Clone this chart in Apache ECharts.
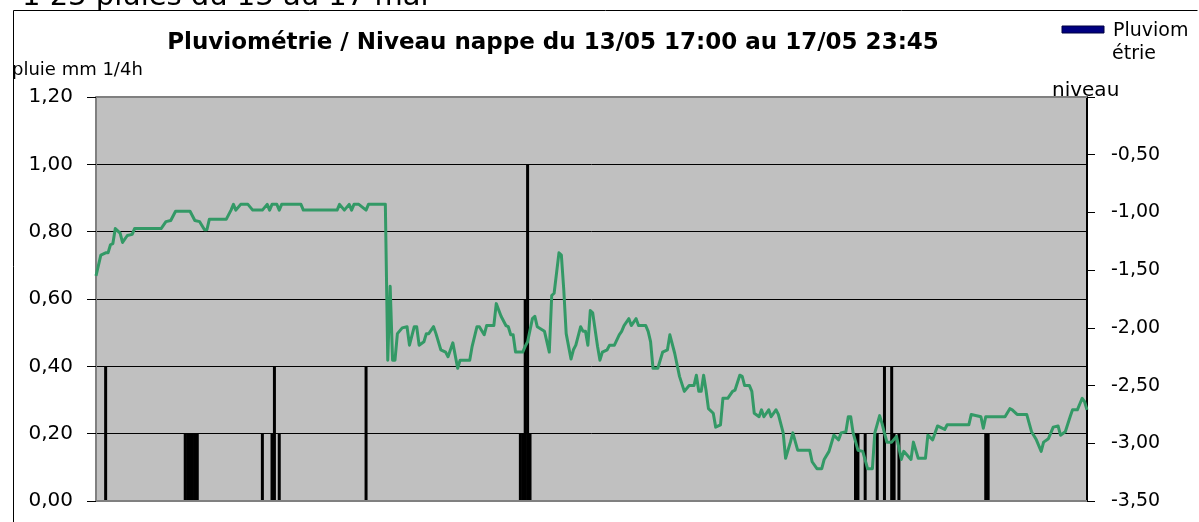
<!DOCTYPE html>
<html>
<head>
<meta charset="utf-8">
<script src="https://cdn.jsdelivr.net/npm/echarts@6/dist/echarts.min.js"></script>
<style>
  html, body { margin: 0; padding: 0; background: #ffffff; }
  #chart { width: 1199px; height: 522px; }
</style>
</head>
<body>
<div id="chart"></div>
<script>
// Time is counted in quarter-hour steps from 13/05 17:00 (step 411 = 17/05 23:45).
const lastStep = 411;

// Rain per quarter hour (mm): step index and amount.
const rainStep = [4, 37, 38, 39, 40, 41, 42, 69, 73, 74, 76, 112,
                  176, 177, 178, 179, 180,
                  315, 316, 319, 324, 327, 330, 331, 333, 369, 370];
const rainMm   = [0.4, 0.2, 0.2, 0.2, 0.2, 0.2, 0.2, 0.2, 0.2, 0.4, 0.2, 0.4,
                  0.2, 0.2, 0.6, 1.0, 0.2,
                  0.2, 0.2, 0.2, 0.2, 0.4, 0.4, 0.2, 0.2, 0.2, 0.2];

// Water-table level (m): step index and reading.
const levelStep = [0, 2, 4, 5, 6, 7, 8, 10, 11, 13, 15, 16, 27, 29, 31, 33, 39, 41, 43, 45,
  46, 47, 54, 56, 57, 58, 60, 63, 65, 69, 71, 72, 73, 75, 76, 77, 85, 86, 100, 101,
  103, 105, 106, 107, 109, 112, 113, 120, 121, 122, 123, 124, 125, 127, 129, 130, 132, 133, 134, 136,
  137, 138, 140, 141, 143, 145, 146, 148, 150, 151, 155, 156, 158, 159, 161, 162, 165, 166, 168, 170,
  171, 172, 173, 174, 177, 178, 179, 181, 182, 183, 186, 188, 189, 190, 192, 193, 194, 195, 197, 198,
  199, 201, 202, 203, 204, 205, 206, 208, 209, 210, 212, 213, 215, 217, 218, 219, 221, 222, 224, 225,
  228, 229, 230, 231, 233, 235, 237, 238, 240, 242, 244, 246, 248, 249, 250, 251, 252, 253, 254, 256,
  257, 259, 260, 262, 264, 265, 267, 268, 269, 271, 272, 273, 275, 276, 277, 279, 280, 282, 283, 285,
  286, 288, 289, 291, 296, 297, 299, 301, 302, 304, 306, 308, 309, 311, 312, 313, 314, 316, 318, 320,
  322, 323, 325, 326, 328, 330, 332, 334, 335, 338, 339, 341, 344, 345, 347, 349, 352, 353, 362, 363,
  367, 368, 369, 377, 379, 380, 382, 386, 388, 390, 392, 393, 395, 397, 399, 400, 402, 404, 405, 407,
  409, 410, 411];
const levelM = [-1.55, -1.37, -1.35, -1.35, -1.28, -1.27, -1.14, -1.18, -1.26, -1.20, -1.19, -1.14, -1.14, -1.08, -1.07, -0.99, -0.99, -1.07, -1.08, -1.15,
  -1.15, -1.06, -1.06, -0.98, -0.93, -0.98, -0.93, -0.93, -0.98, -0.98, -0.93, -0.98, -0.93, -0.93, -0.98, -0.93, -0.93, -0.98, -0.98, -0.93,
  -0.98, -0.93, -0.98, -0.93, -0.93, -0.98, -0.93, -0.93, -2.28, -1.64, -2.28, -2.28, -2.05, -2.00, -1.99, -2.15, -1.99, -1.99, -2.15, -2.12,
  -2.05, -2.05, -1.99, -2.05, -2.19, -2.21, -2.25, -2.13, -2.35, -2.28, -2.28, -2.16, -1.99, -1.99, -2.06, -1.98, -1.98, -1.79, -1.90, -1.98,
  -1.99, -2.06, -2.06, -2.21, -2.21, -2.16, -2.12, -1.92, -1.90, -1.99, -2.03, -2.21, -1.72, -1.70, -1.35, -1.37, -1.67, -2.05, -2.27, -2.19,
  -2.15, -1.99, -2.03, -2.03, -2.15, -1.85, -1.87, -2.16, -2.28, -2.21, -2.19, -2.15, -2.15, -2.06, -2.03, -1.98, -1.92, -1.98, -1.92, -1.98,
  -1.98, -2.03, -2.12, -2.35, -2.35, -2.21, -2.19, -2.06, -2.22, -2.42, -2.55, -2.50, -2.50, -2.41, -2.55, -2.55, -2.41, -2.54, -2.70, -2.74,
  -2.86, -2.84, -2.61, -2.61, -2.55, -2.54, -2.41, -2.42, -2.50, -2.50, -2.55, -2.74, -2.77, -2.71, -2.77, -2.71, -2.77, -2.71, -2.75, -2.91,
  -3.13, -2.99, -2.91, -3.06, -3.06, -3.16, -3.22, -3.22, -3.14, -3.07, -2.93, -2.97, -2.91, -2.90, -2.77, -2.77, -2.91, -3.06, -3.07, -3.22,
  -3.22, -2.91, -2.76, -2.83, -2.99, -2.99, -2.94, -3.14, -3.07, -3.14, -2.99, -3.13, -3.13, -2.93, -2.97, -2.85, -2.88, -2.84, -2.84, -2.75,
  -2.77, -2.87, -2.77, -2.77, -2.70, -2.71, -2.75, -2.75, -2.90, -2.97, -3.07, -2.99, -2.96, -2.86, -2.85, -2.93, -2.90, -2.77, -2.71, -2.71,
  -2.61, -2.64, -2.71];

// Axis ranges
const rainAxis  = { min: 0, max: 1.2, step: 0.2 };
const levelAxis = { min: -3.5, max: 0, step: 0.5 };

const chartTitle = 'Pluviométrie / Niveau nappe du 13/05 17:00 au 17/05 23:45';
const headerText = '1 23 pluies du 13 au 17 mai';

const fr = v => v.toFixed(2).replace('.', ',');

const plot = { left: 96, top: 97, width: 991, height: 404 };
const plotRight = plot.left + plot.width;
const plotBottom = plot.top + plot.height;

const chart = echarts.init(document.getElementById('chart'));

chart.setOption({
  animation: false,
  backgroundColor: '#ffffff',
  grid: {
    left: plot.left, top: plot.top, width: plot.width, height: plot.height,
    show: true, backgroundColor: '#c0c0c0', borderWidth: 0
  },
  xAxis: {
    type: 'value', min: 0, max: lastStep,
    show: false
  },
  yAxis: [
    {
      type: 'value', position: 'left',
      min: rainAxis.min, max: rainAxis.max, interval: rainAxis.step,
      axisLine: { show: true, lineStyle: { color: '#808080', width: 2 } },
      axisTick: { show: true, inside: false, length: 9, lineStyle: { color: '#000', width: 1 } },
      splitLine: { show: true, lineStyle: { color: '#000', width: 1 } },
      axisLabel: {
        formatter: fr, margin: 23, color: '#000',
        fontFamily: 'DejaVu Sans', fontSize: 20
      }
    },
    {
      type: 'value', position: 'right',
      min: levelAxis.min, max: levelAxis.max, interval: levelAxis.step,
      axisLine: { show: true, lineStyle: { color: '#000', width: 2 } },
      axisTick: { show: true, inside: false, length: 8, lineStyle: { color: '#000', width: 1 } },
      splitLine: { show: false },
      axisLabel: {
        formatter: v => (v === 0 ? '' : fr(v)), margin: 24, color: '#000',
        fontFamily: 'DejaVu Sans', fontSize: 19
      }
    }
  ],
  series: [
    {
      name: 'Pluviométrie',
      type: 'bar',
      xAxisIndex: 0, yAxisIndex: 0,
      barWidth: 3,
      itemStyle: { color: '#000000' },
      data: rainStep.map((s, k) => [s, rainMm[k]]),
      z: 2
    },
    {
      name: 'niveau',
      type: 'line',
      xAxisIndex: 0, yAxisIndex: 1,
      showSymbol: false,
      lineStyle: { color: '#339966', width: 3, join: 'round' },
      itemStyle: { color: '#339966' },
      data: levelStep.map((s, k) => [s, levelM[k]]),
      z: 3
    }
  ],
  graphic: [
    // outer frame of the chart area
    {
      type: 'polyline', silent: true, z: 20,
      shape: { points: [[13.5, 530], [13.5, 10.5], [1197.5, 10.5]] },
      style: { stroke: '#000', lineWidth: 1, fill: null }
    },
    // plot-area border (top and bottom edges)
    {
      type: 'polyline', silent: true, z: 20,
      shape: { points: [[plotRight, plot.top], [plot.left, plot.top]] },
      style: { stroke: '#808080', lineWidth: 2, fill: null }
    },
    {
      type: 'polyline', silent: true, z: 20,
      shape: { points: [[plot.left, plotBottom], [plotRight, plotBottom]] },
      style: { stroke: '#808080', lineWidth: 2, fill: null }
    },
    {
      type: 'text', silent: true, z: 20, x: 22, y: -3,
      style: { text: headerText, fontFamily: 'DejaVu Sans', fontSize: 29, fill: '#000',
               align: 'left', verticalAlign: 'middle' }
    },
    {
      type: 'text', silent: true, z: 20, x: 553, y: 43,
      style: { text: chartTitle, fontFamily: 'DejaVu Sans', fontWeight: 'bold', fontSize: 23,
               fill: '#000', align: 'center', verticalAlign: 'middle' }
    },
    {
      type: 'text', silent: true, z: 20, x: 12, y: 70,
      style: { text: 'pluie mm 1/4h', fontFamily: 'DejaVu Sans', fontSize: 18, fill: '#000',
               align: 'left', verticalAlign: 'middle' }
    },
    {
      type: 'text', silent: true, z: 1, x: 1052, y: 91,
      style: { text: 'niveau', fontFamily: 'DejaVu Sans', fontSize: 20, fill: '#000',
               align: 'left', verticalAlign: 'middle' }
    },
    // legend
    {
      type: 'rect', silent: true, z: 20,
      shape: { x: 1062, y: 26, width: 42, height: 7 },
      style: { fill: '#000080', stroke: '#000040', lineWidth: 1 }
    },
    {
      type: 'text', silent: true, z: 20, x: 1113, y: 31,
      style: { text: 'Pluviom', fontFamily: 'DejaVu Sans', fontSize: 19, fill: '#000',
               align: 'left', verticalAlign: 'middle' }
    },
    {
      type: 'text', silent: true, z: 20, x: 1112, y: 54,
      style: { text: 'étrie', fontFamily: 'DejaVu Sans', fontSize: 19, fill: '#000',
               align: 'left', verticalAlign: 'middle' }
    }
  ]
});
</script>
</body>
</html>
